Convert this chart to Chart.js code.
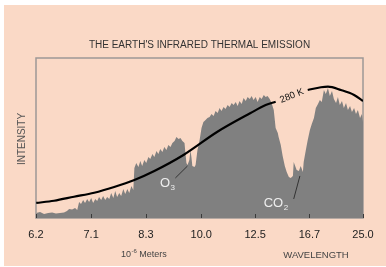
<!DOCTYPE html>
<html>
<head>
<meta charset="utf-8">
<script src="https://cdn.jsdelivr.net/npm/chart.js@4/dist/chart.umd.min.js"></script>
<style>
  html, body { margin: 0; padding: 0; background: #fff; }
  canvas { display: block; }
</style>
</head>
<body>
<canvas id="myChart" width="386" height="267"></canvas>
<script>
// x axis is linear in wavenumber (cm-1), labelled in wavelength (10^-6 m)
const tickWavelengths = [6.2, 7.1, 8.3, 10.0, 12.5, 16.7, 25.0];

// measured emission spectrum (wavenumber, relative intensity 0-100)
const spectrumWavenumber = [
  1612, 1598, 1583, 1568, 1553, 1539, 1524, 1509, 1498, 1490,
  1479, 1468, 1460, 1453, 1446, 1438, 1431, 1423, 1416, 1408,
  1401, 1393, 1386, 1379, 1371, 1364, 1356, 1349, 1341, 1334,
  1326, 1319, 1312, 1304, 1297, 1289, 1282, 1274, 1267, 1259,
  1252, 1248, 1241, 1233, 1226, 1219, 1211, 1204, 1196, 1189,
  1181, 1174, 1166, 1159, 1152, 1144, 1137, 1129, 1122, 1114,
  1107, 1099, 1092, 1084, 1077, 1070, 1062, 1059, 1055, 1051,
  1044, 1040, 1036, 1033, 1025, 1021, 1014, 1006, 999, 992,
  984, 977, 969, 962, 954, 947, 939, 932, 925, 917,
  910, 902, 895, 887, 880, 872, 865, 858, 850, 843,
  835, 828, 820, 813, 806, 798, 791, 783, 776, 768,
  761, 754, 746, 739, 731, 724, 716, 713, 705, 698,
  690, 683, 675, 668, 660, 657, 653, 646, 638, 631,
  623, 620, 612, 605, 597, 590, 582, 575, 567, 560,
  553, 545, 538, 530, 523, 515, 508, 500, 493, 486,
  478, 471, 463, 456, 448, 441, 433, 426, 419, 411,
  404, 400
];
const spectrumIntensity = [
  3.1, 3.8, 2.5, 3.1, 3.4, 2.8, 3.1, 3.4, 4.4, 5.6,
  5.3, 6.3, 5.0, 10.0, 8.8, 11.3, 9.4, 11.9, 10.0, 12.5,
  9.4, 11.9, 10.6, 13.1, 11.3, 13.8, 11.3, 13.1, 11.9, 15.6,
  12.5, 16.9, 13.1, 15.6, 13.8, 18.1, 15.0, 18.1, 15.6, 20.0,
  17.5, 31.3, 34.4, 31.9, 35.6, 32.5, 36.3, 34.4, 38.1, 36.9,
  40.0, 38.1, 41.9, 40.0, 43.1, 41.3, 44.4, 42.5, 45.6, 44.4,
  46.9, 48.1, 50.6, 49.4, 50.0, 48.1, 46.9, 41.3, 34.4, 33.1,
  36.3, 42.5, 37.5, 32.5, 31.9, 33.1, 42.5, 48.8, 56.3, 60.0,
  61.3, 62.5, 63.1, 65.0, 63.8, 66.9, 65.6, 68.8, 66.9, 69.4,
  68.1, 70.6, 69.4, 71.9, 70.6, 72.5, 70.0, 73.1, 71.3, 75.0,
  73.1, 75.6, 74.4, 76.3, 73.8, 75.6, 72.5, 75.6, 74.4, 76.9,
  75.6, 76.3, 74.4, 71.9, 67.5, 56.3, 53.1, 50.6, 45.6, 38.8,
  32.5, 28.8, 25.6, 25.0, 26.3, 35.0, 33.1, 30.0, 29.4, 32.5,
  28.8, 35.0, 42.5, 48.8, 55.0, 58.8, 62.5, 68.8, 71.3, 73.8,
  72.5, 80.0, 77.5, 81.3, 76.3, 79.4, 74.4, 71.9, 75.6, 70.6,
  73.1, 68.8, 71.9, 67.5, 70.0, 66.3, 68.8, 65.0, 67.5, 62.5,
  65.0, 60.0
];

// 280 K blackbody curve, null leaves room for its label
const curveWavenumber = [1612, 1546, 1472, 1397, 1323, 1248, 1174, 1066, 940, 817, 761, 724, 680, 605, 556, 530, 482, 433, 400];
const curveIntensity  = [9.4, 10.8, 13.3, 15.8, 19.4, 23.8, 29.4, 39.4, 53.9, 65.6, 70.6, 72.7, null, 80.0, 81.7, 82.1, 80.0, 76.9, 73.1];

// annotation anchors in data units [wavenumber, intensity]
const o3Label = [1126, 21.9];
const o3Leader = [[1096, 25.0], [1051, 32.5]];
const co2Label = [724, 9.4];
const co2Leader = [[657, 11.9], [634, 26.3]];
const curveLabel = [664, 76.3];

const FONT = "'Liberation Sans', Arial, Helvetica, sans-serif";

function toPoints(xs, ys) {
  return xs.map(function (x, i) { return { x: x, y: ys[i] }; });
}

function drawSub(ctx, main, sub, x, y, size) {
  // text with a lowered small subscript, centred on x
  ctx.font = size + 'px ' + FONT;
  var w1 = ctx.measureText(main).width;
  ctx.font = Math.round(size * 0.65) + 'px ' + FONT;
  var w2 = ctx.measureText(sub).width;
  var x0 = x - (w1 + w2) / 2;
  ctx.textAlign = 'left';
  ctx.textBaseline = 'middle';
  ctx.font = size + 'px ' + FONT;
  ctx.fillText(main, x0, y);
  ctx.font = Math.round(size * 0.65) + 'px ' + FONT;
  ctx.fillText(sub, x0 + w1 + 0.5, y + size * 0.35);
}

const decor = {
  id: 'decor',
  beforeDraw(chart) {
    const ctx = chart.ctx;
    ctx.save();
    ctx.fillStyle = '#ffffff';
    ctx.fillRect(0, 0, chart.width, chart.height);
    ctx.fillStyle = '#fad9c6';
    ctx.fillRect(4, 5, chart.width - 4, chart.height - 6);
    ctx.restore();
  },
  beforeDatasetsDraw(chart) {
    const a = chart.chartArea, ctx = chart.ctx;
    ctx.save();
    ctx.strokeStyle = '#9d9896';
    ctx.lineWidth = 1.5;
    ctx.strokeRect(a.left, a.top, a.right - a.left, a.bottom - a.top);
    ctx.restore();
  },
  afterDatasetsDraw(chart) {
    const a = chart.chartArea, ctx = chart.ctx;
    const xs = chart.scales.x, ys = chart.scales.y;
    function px(p) { return [xs.getPixelForValue(p[0]), ys.getPixelForValue(p[1])]; }
    ctx.save();

    // small inward tick marks
    ctx.strokeStyle = '#3a3a3a';
    ctx.lineWidth = 1;
    xs.ticks.forEach(function (t) {
      var x = Math.round(xs.getPixelForValue(t.value)) + 0.5;
      ctx.beginPath();
      ctx.moveTo(x, a.bottom);
      ctx.lineTo(x, a.bottom - 4);
      ctx.stroke();
    });

    // leader lines
    ctx.strokeStyle = '#333';
    [o3Leader, co2Leader].forEach(function (seg) {
      var p0 = px(seg[0]), p1 = px(seg[1]);
      ctx.beginPath();
      ctx.moveTo(p0[0], p0[1]);
      ctx.lineTo(p1[0], p1[1]);
      ctx.stroke();
    });

    // molecule labels
    ctx.fillStyle = '#eeeeee';
    var o = px(o3Label);
    drawSub(ctx, 'O', '3', o[0], o[1], 13);
    var c = px(co2Label);
    drawSub(ctx, 'CO', '2', c[0], c[1], 13);

    // curve label
    var k = px(curveLabel);
    ctx.translate(k[0], k[1]);
    ctx.rotate(-22 * Math.PI / 180);
    ctx.fillStyle = '#111';
    ctx.font = '9.5px ' + FONT;
    ctx.textAlign = 'center';
    ctx.textBaseline = 'middle';
    ctx.fillText('280 K', 0, 0);
    ctx.setTransform(1, 0, 0, 1, 0, 0);

    // title and axis words
    ctx.fillStyle = '#333';
    ctx.font = '10px ' + FONT;
    ctx.textAlign = 'center';
    ctx.fillText("THE EARTH'S INFRARED THERMAL EMISSION", (a.left + a.right) / 2, 45);

    ctx.fillStyle = '#444';
    ctx.font = '9.5px ' + FONT;
    ctx.fillText('WAVELENGTH', 316, 255);

    // 10^-6 Meters
    ctx.textAlign = 'left';
    ctx.font = '9px ' + FONT;
    ctx.fillText('10', 121, 255);
    var w = ctx.measureText('10').width;
    ctx.font = '6px ' + FONT;
    ctx.fillText('-6', 121 + w + 0.5, 251);
    var w2 = ctx.measureText('-6').width;
    ctx.font = '9px ' + FONT;
    ctx.fillText(' Meters', 121 + w + w2 + 0.5, 255);

    ctx.translate(22, (a.top + a.bottom) / 2 + 1);
    ctx.rotate(-Math.PI / 2);
    ctx.textAlign = 'center';
    ctx.font = '10px ' + FONT;
    ctx.fillStyle = '#555';
    ctx.fillText('INTENSITY', 0, 0);
    ctx.restore();
  }
};

new Chart(document.getElementById('myChart'), {
  type: 'line',
  data: {
    datasets: [
      {
        label: '280 K',
        data: toPoints(curveWavenumber, curveIntensity),
        borderColor: '#000',
        borderWidth: 2.2,
        pointRadius: 0,
        fill: false,
        spanGaps: false,
        cubicInterpolationMode: 'monotone',
        order: 0
      },
      {
        label: 'Emission',
        data: toPoints(spectrumWavenumber, spectrumIntensity),
        borderWidth: 0,
        borderColor: '#808080',
        backgroundColor: '#808080',
        pointRadius: 0,
        fill: 'origin',
        tension: 0,
        order: 1
      }
    ]
  },
  options: {
    responsive: false,
    animation: false,
    devicePixelRatio: 1,
    layout: { padding: { left: 36, right: 23, top: 58, bottom: 0 } },
    plugins: { legend: { display: false }, tooltip: { enabled: false }, title: { display: false } },
    scales: {
      x: {
        type: 'linear',
        reverse: true,
        min: 400,
        max: 10000 / 6.2,
        grid: { display: false },
        border: { display: false },
        afterBuildTicks: function (axis) {
          axis.ticks = tickWavelengths.map(function (w) { return { value: 10000 / w }; });
        },
        afterFit: function (scale) { scale.height = 49; },
        ticks: {
          autoSkip: false,
          maxRotation: 0,
          padding: 2,
          color: '#222',
          font: { family: FONT, size: 11 },
          callback: function (value) { return (10000 / value).toFixed(1); }
        }
      },
      y: {
        type: 'linear',
        min: 0,
        max: 100,
        display: false
      }
    }
  },
  plugins: [decor]
});
</script>
</body>
</html>
